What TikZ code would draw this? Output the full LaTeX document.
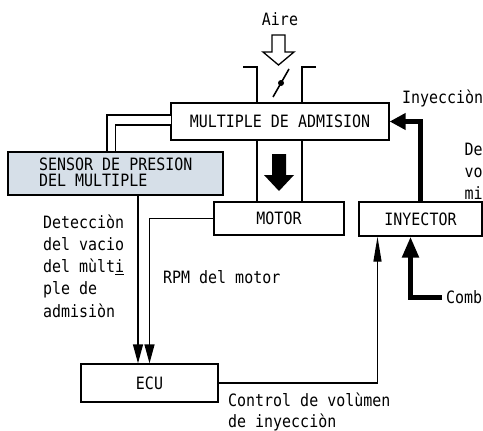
\documentclass[tikz,border=0pt]{standalone}
\usepackage{fontspec}
\setmainfont{DejaVu Sans Mono}[FakeStretch=0.88]
\usetikzlibrary{arrows.meta,calc}
\definecolor{sensorfill}{RGB}{214,223,232}
\begin{document}
\begin{tikzpicture}[x=1pt,y=-1pt,
  box/.style={draw, line width=1.3pt, inner sep=0pt, font=\fontsize{17}{17}\selectfont},
  lbl/.style={inner sep=0pt, anchor=base west, font=\fontsize{17}{17}\selectfont},
  thinl/.style={line width=1.3pt},
  arr/.style={line width=1.3pt, -{Triangle[length=19pt,width=10pt]}},
  arrl/.style={line width=1.3pt, -{Triangle[length=25pt,width=8pt]}},
  fat/.style={line width=5pt, -{Triangle[length=16pt,width=16pt]}},
  fatl/.style={line width=5pt, -{Triangle[length=21pt,width=16pt]}}]
\useasboundingbox (0,0) rectangle (483,431);

% boxes
\node[box, minimum width=218pt, minimum height=37pt] (man) at (280,121.5) {MULTIPLE DE ADMISION};
\node[box, minimum width=130pt, minimum height=33pt] (motor) at (279,218.5) {MOTOR};
\node[box, minimum width=123pt, minimum height=34pt] (inj) at (420.5,219) {INYECTOR};
\node[box, minimum width=137pt, minimum height=38pt] (ecu) at (149.5,383) {ECU};
\node[box, fill=sensorfill, minimum width=215pt, minimum height=43pt] (sensor) at (115.5,173.5) {};
\node[lbl] (sen1) at (39,170) {SENSOR DE PRESION};
\node[lbl] (sen2) at (39,186) {DEL MULTIPLE};

% throttle body walls
\draw[thinl] (243,67) -- (257,67) -- (257,103);
\draw[thinl] (316,67) -- (302,67) -- (302,103);
\draw[thinl] (257,140) -- (257,202);
\draw[thinl] (302,140) -- (302,202);
% throttle plate
\draw[line width=1.6pt] (273,97) -- (289,69);
\fill (281,83) circle (3);

% air arrow (hollow)
\draw[line width=1.3pt, fill=white] (272,35) -- (285,35) -- (285,52) -- (294,52) -- (278.5,65) -- (263,52) -- (272,52) -- cycle;
% flow arrow (black)
\fill (272,154) -- (286,154) -- (286,175) -- (294,175) -- (279,191) -- (264,175) -- (272,175) -- cycle;

% pipe sensor - manifold
\draw[thinl] ([xshift=-8.5pt]sensor.north) |- ([yshift=6.5pt]man.west);
\draw[thinl] (sensor.north) |- ([yshift=-3.5pt]man.west);
\draw[white, line width=2pt] ([yshift=5.4pt]man.west) -- ([yshift=-2.4pt]man.west);

% signals to ECU
\draw[arr] ([xshift=22.5pt]sensor.south) coordinate (s1) -- (s1 |- ecu.north);
\draw[arr] (motor.west) -| (ecu.north);
% ECU to injector
\draw[arrl] (ecu.east) -| ([xshift=-43pt]inj.south);
% injection into manifold
\draw[fat] (inj.north) |- (man.east);
% fuel
\coordinate (fuel) at (442,297);
\draw[fatl] (fuel) -| ([xshift=-10pt]inj.south);

% labels
\node[lbl, anchor=base] (aire) at (280,25) {Aire};
\node[lbl] (iny) at (402,103) {Inyecciòn};
\node[lbl] (de) at (464.5,155) {De};
\node[lbl] (vo) at (464.5,177) {vo};
\node[lbl] (mi) at (464.5,199) {mi};
\node[lbl] (comb) at (446,303) {Comb};
\node[lbl] (rpm) at (163,283) {RPM del motor};
\node[lbl] (ctl1) at (228,406.5) {Control de volùmen};
\node[lbl] (ctl2) at (228,427) {de inyecciòn};
\node[lbl] (d1) at (43,228) {Detecciòn};
\node[lbl] (d2) at (43,250.3) {del vacio};
\node[lbl] (d3) at (43,272.6) {del mùlt\underline{i}};
\node[lbl] (d4) at (43,294.9) {ple de};
\node[lbl] (d5) at (43,317.2) {admisiòn};
\end{tikzpicture}
\end{document}
